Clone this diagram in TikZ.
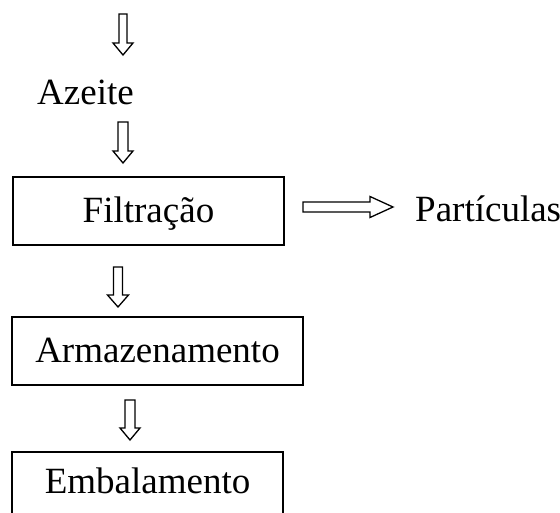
\documentclass[tikz,border=0pt]{standalone}
\usepackage{fontspec}
\setmainfont{Liberation Serif}
\tikzset{
  box/.style={draw, line width=1.8pt, inner xsep=0pt, inner ysep=0pt, anchor=base,
    font=\fontsize{37}{40}\selectfont},
  lbl/.style={inner sep=0pt, anchor=base west, font=\fontsize{37}{40}\selectfont},
  blk/.style={draw, line width=1.3pt, line join=miter, fill=white}
}
\newcommand\blkdown[5]{% x, ytop, ytip, shaft half width, head half width
  \draw[blk] (#1-#4,#2) -- (#1+#4,#2) -- (#1+#4,#3-12) -- (#1+#5,#3-12) -- (#1,#3)
    -- (#1-#5,#3-12) -- (#1-#4,#3-12) -- cycle;}
\begin{document}
\begin{tikzpicture}[x=1pt,y=-1pt]
  \useasboundingbox (0,0) rectangle (560,513);
  \clip (0,0) rectangle (560,513);
  % text labels
  \node[lbl] (azeite) at (37,105) {Azeite};
  \node[lbl] (part) at (415,222) {Partículas};
  % boxes
  \node[box, minimum width=271pt, text height=46pt, text depth=22pt] (filt) at (148.5,223) {Filtração};
  \node[box, minimum width=291pt, text height=45pt, text depth=23pt] (arm) at (157.5,362) {Armazenamento};
  \node[box, minimum width=271pt, text height=41pt, text depth=40pt] (emb) at (147.5,493) {Embalamento};
  % block arrows
  \blkdown{123}{14}{55}{4}{10}
  \blkdown{123}{122}{163}{5}{10}
  \blkdown{118}{267}{307}{4.5}{10.5}
  \blkdown{130}{400}{440}{5}{10}
  \draw[blk] (303,202) -- (370,202) -- (370,196.5) -- (393,207) -- (370,217.5)
    -- (370,212) -- (303,212) -- cycle;
\end{tikzpicture}
\end{document}
